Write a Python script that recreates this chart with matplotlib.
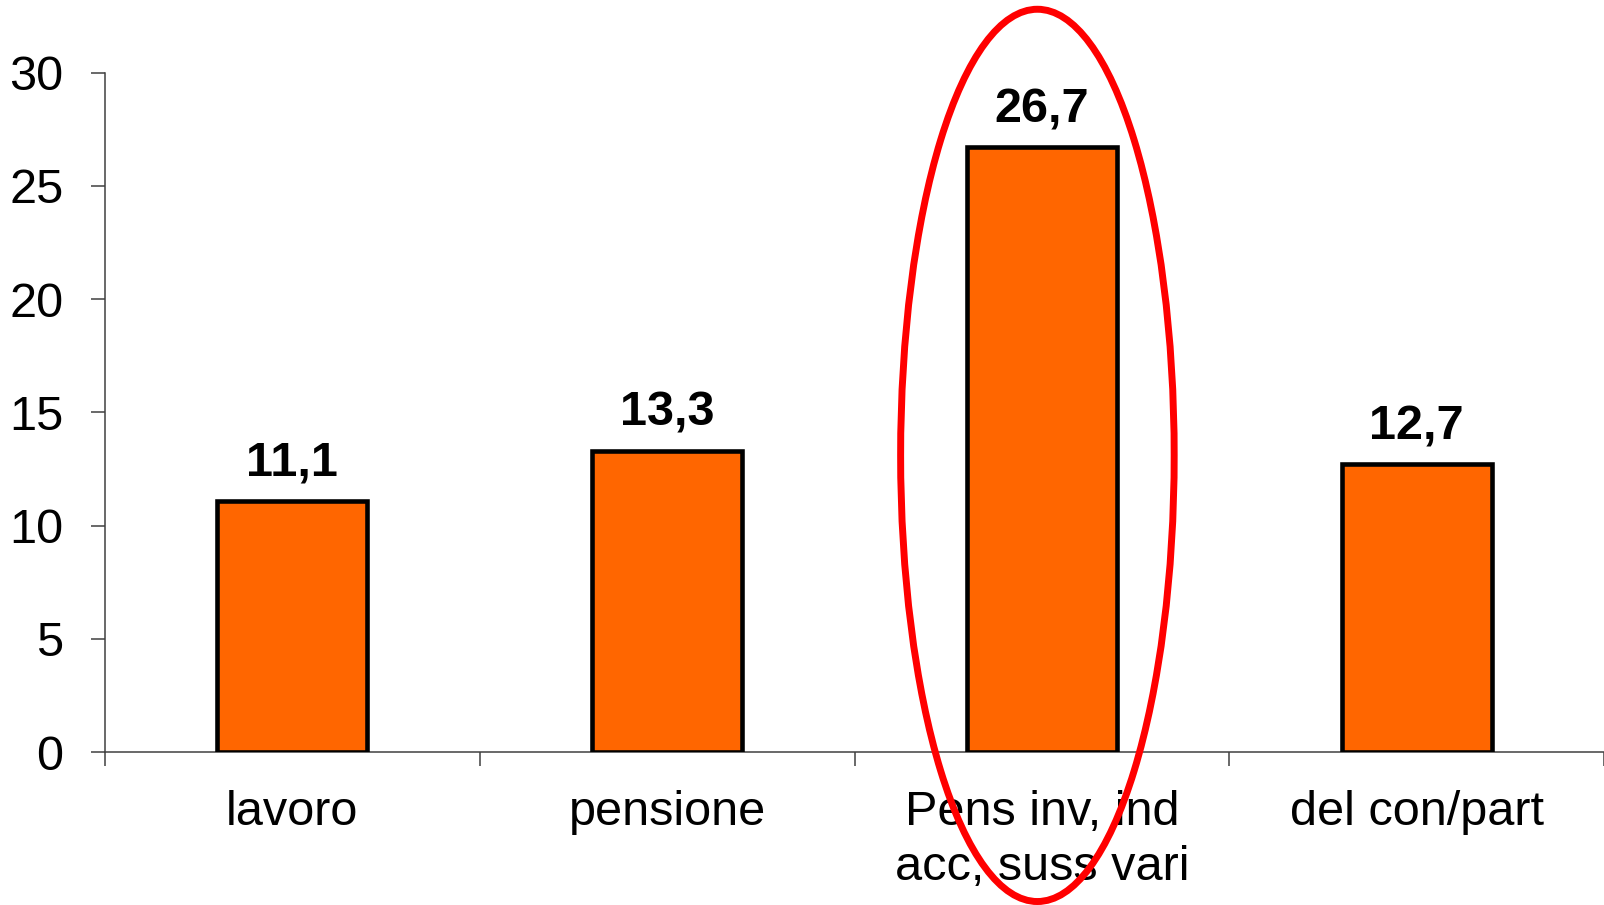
import matplotlib.pyplot as plt
from matplotlib.patches import Ellipse

categories = ["lavoro", "pensione", "Pens inv, ind\nacc, suss vari", "del con/part"]
values = [11.1, 13.3, 26.7, 12.7]
value_labels = ["11,1", "13,3", "26,7", "12,7"]
y_ticks = [0, 5, 10, 15, 20, 25, 30]
highlight = 2  # index of the circled bar


def make_chart():
    plt.rcParams['font.family'] = ['Liberation Sans', 'DejaVu Sans']

    fig = plt.figure(figsize=(16.04, 9.05), dpi=100)
    ax = fig.add_axes([0.0655, 0.169, 0.9345, 0.7507])

    x = list(range(len(categories)))
    bars = ax.bar(x, values, width=0.4, color="#FF6600",
                  edgecolor="black", linewidth=3.3, zorder=3)

    # value labels above the bars
    for b, lab in zip(bars, value_labels):
        ax.annotate(lab, (b.get_x() + b.get_width() / 2, b.get_height()),
                    xytext=(0, 11), textcoords="offset points",
                    ha="center", va="bottom", fontsize=35, fontweight="bold")

    ax.set_xlim(-0.5, len(categories) - 0.5)
    ax.set_ylim(0, 30)
    ax.set_yticks(y_ticks)

    # boundary ticks on x, labels centred under bars
    ax.set_xticks([i - 0.5 for i in range(len(categories) + 1)])
    ax.set_xticklabels([])
    ax.set_xticks(x, labels=categories, minor=True)
    for t in ax.get_xticklabels(minor=True):
        t.set_linespacing(1.3)
    ax.tick_params(axis="x", which="major", direction="out", length=10,
                   width=1.1, color="#404040")
    ax.tick_params(axis="x", which="minor", length=0, pad=27, labelsize=35)
    ax.tick_params(axis="y", direction="out", length=10, width=1.1,
                   color="#404040", pad=20, labelsize=35)

    for s in ["top", "right"]:
        ax.spines[s].set_visible(False)
    for s in ["left", "bottom"]:
        ax.spines[s].set_color("#404040")
        ax.spines[s].set_linewidth(1.1)

    # red ellipse around the highlighted bar
    ell = Ellipse((highlight - 0.012, 13.1), width=0.73, height=39.4, fill=False,
                  edgecolor="#FF0000", linewidth=5, clip_on=False, zorder=5)
    ax.add_patch(ell)

    fig.savefig("out.png", dpi=100)


if __name__ == "__main__":
    make_chart()
